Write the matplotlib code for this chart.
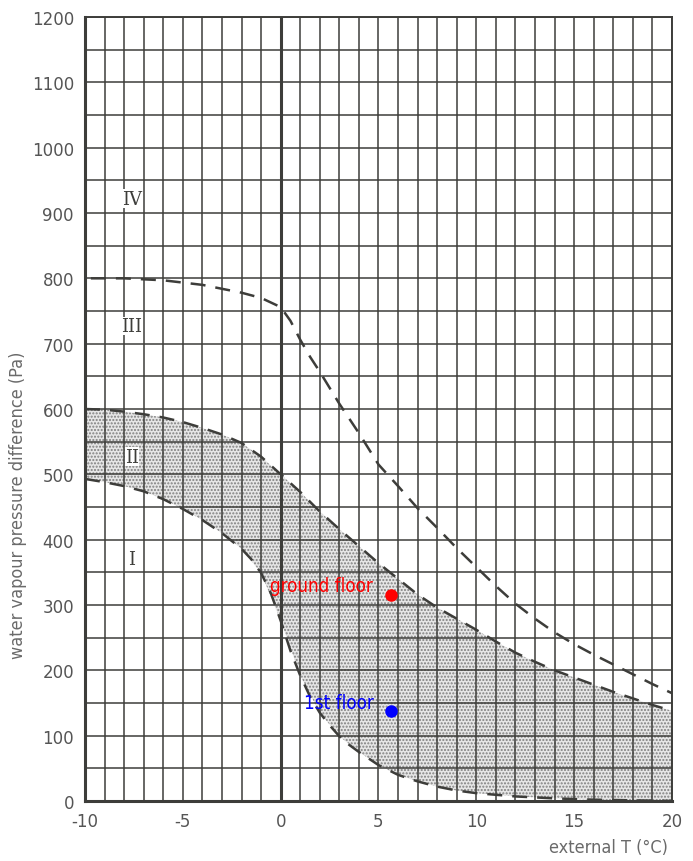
import numpy as np
import matplotlib.pyplot as plt

plt.rcParams['axes.unicode_minus'] = False

# boundary curves (external T in °C, pressure difference in Pa)
upper_t = [-9.7, -8, -6, -4, -2, -1, 0, 0.5, 1, 1.5, 2, 3, 4, 5, 6, 7, 8, 9, 10,
           11, 12, 13, 14, 15, 16, 17, 18, 19, 20]
upper_p = [800, 800, 797, 790, 778, 770, 756, 735, 706, 680, 657, 608, 563, 515,
           482, 448, 418, 387, 358, 329, 302, 279, 258, 240, 224, 209, 194, 179, 165]

middle_t = [-10, -9, -8, -7, -6, -5, -4, -3, -2, -1, 0, 1, 2, 3, 4, 5, 6, 7, 8, 9,
            10, 11, 12, 13, 14, 15, 16, 17, 18, 19, 20]
middle_p = [600, 599, 596, 592, 587, 580, 571, 561, 548, 527, 500, 473, 443, 416,
            390, 364, 340, 316, 296, 279, 262, 244, 227, 213, 200, 189, 178, 167,
            157, 147, 138]

lower_t = [-10, -9, -8, -7, -6, -5, -4, -3, -2, -1.5, -1, -0.5, 0, 0.5, 1, 1.5, 2,
           2.5, 3, 3.5, 4, 5, 6, 7, 8, 9, 10, 12, 14, 16, 18, 20]
lower_p = [493, 488, 482, 474, 462, 447, 430, 410, 386, 370, 349, 318, 276, 230,
           192, 160, 135, 116, 99, 86, 75, 55, 40, 30, 22, 16, 12, 7, 4, 2, 1, 0]

# zone labels
zones = ['IV', 'III', 'II', 'I']
zone_t = [-7.6, -7.6, -7.6, -7.6]
zone_p = [922, 727, 527, 371]

# measured points
floors = ['ground floor', '1st floor']
floor_t = [5.62, 5.65]
floor_p = [316, 137]
floor_colors = ['red', 'blue']

x_ticks = [-10, -5, 0, 5, 10, 15, 20]
y_ticks = list(range(0, 1201, 100))

ink = '#3d3d3a'
label_grey = '#555555'

fig = plt.figure(figsize=(6.93, 8.62), dpi=100)
ax = fig.add_axes([85 / 693, 60 / 862, 587 / 693, 784 / 862])

# shaded band between the lower two curves
band_t = np.array(middle_t)
band_low = np.interp(band_t, lower_t, lower_p)
ax.fill_between(band_t, band_low, middle_p, facecolor='#e6e6e6',
                edgecolor='#7f7f7f', hatch='.....', linewidth=0, zorder=1)

# graph paper grid
for t in range(-10, 21):
    lw = 2.2 if t == 0 else 1.1
    ax.axvline(t, color=ink, lw=lw, zorder=2)
for p in range(0, 1201, 50):
    ax.axhline(p, color=ink, lw=1.1, zorder=2)

dash = dict(color=ink, lw=1.8, dashes=(6, 4), zorder=3)
ax.plot(upper_t, upper_p, **dash)
ax.plot(middle_t, middle_p, **dash)
ax.plot(lower_t, lower_p, **dash)

for name, t, p in zip(zones, zone_t, zone_p):
    ax.text(t, p, name, family='DejaVu Serif', fontsize=13, color=ink,
            ha='center', va='center', zorder=4,
            bbox=dict(facecolor='white', edgecolor='none', pad=0.3))

for name, t, p, c in zip(floors, floor_t, floor_p, floor_colors):
    ax.plot(t, p, 'o', color=c, markersize=8, zorder=5)
    ax.text(t - 0.9, p + 14, name, color=c, fontsize=13.5, fontstretch='condensed',
            ha='right', va='center', zorder=5)

ax.set_xlim(-10, 20)
ax.set_ylim(0, 1200)
ax.set_xticks(x_ticks)
ax.set_yticks(y_ticks)
ax.tick_params(length=0, labelsize=12, labelcolor=label_grey, pad=8)
for side in ['left', 'bottom']:
    ax.spines[side].set_linewidth(2.2)
for side in ['top', 'right']:
    ax.spines[side].set_linewidth(1.4)
for s in ax.spines.values():
    s.set_color(ink)

fig.text(18 / 693, 1 - 505 / 862, 'water vapour pressure difference (Pa)',
         rotation=90, ha='center', va='center', fontsize=13,
         fontstretch='condensed', color='#6a6a6a')
fig.text(668 / 693, 1 - 848 / 862, 'external T (°C)', ha='right', va='center',
         fontsize=13, fontstretch='condensed', color='#6a6a6a')

fig.savefig('out.png', dpi=100, facecolor='white')
